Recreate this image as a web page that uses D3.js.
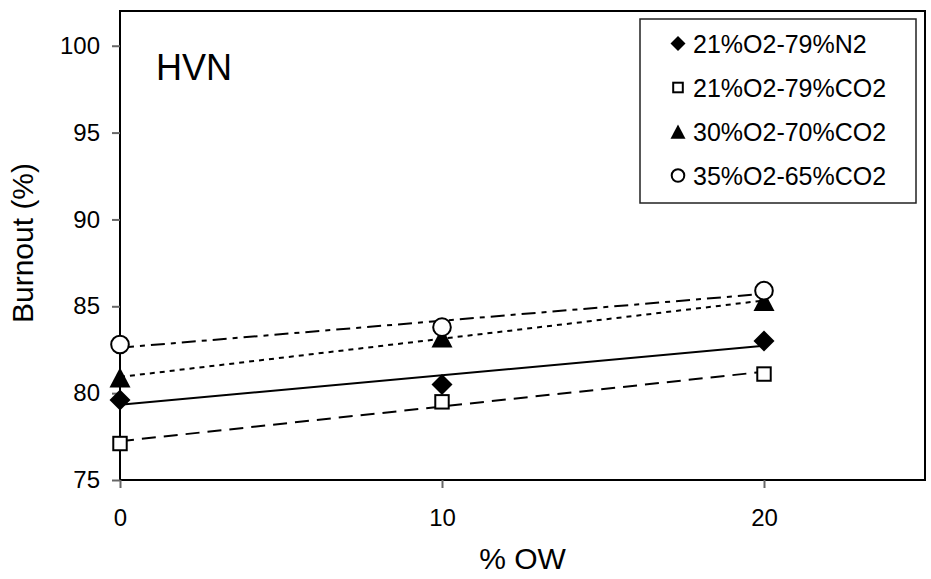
<!DOCTYPE html>
<html>
<head>
<meta charset="utf-8">
<script src="https://cdn.jsdelivr.net/npm/d3@7"></script>
<style>
  html, body { margin: 0; padding: 0; background: #fff; }
  svg { display: block; font-family: Arial, "Liberation Sans", sans-serif; }
</style>
</head>
<body>
<svg id="chart" width="931" height="579"></svg>
<script>
// ---- data ----
const xValues = [0, 10, 20];
const seriesNames = ["21%O2-79%N2", "21%O2-79%CO2", "30%O2-70%CO2", "35%O2-65%CO2"];
const n2_21 = [79.6, 80.5, 83.0];
const co2_21 = [77.1, 79.5, 81.1];
const co2_30 = [80.9, 83.2, 85.3];
const co2_35 = [82.8, 83.8, 85.9];
const xTicks = [0, 10, 20];
const yTicks = [75, 80, 85, 90, 95, 100];
const xTitle = "% OW";
const yTitle = "Burnout (%)";
const panelLabel = "HVN";

const series = [
  { name: seriesNames[0], values: n2_21, symbol: "diamond", dash: null },
  { name: seriesNames[1], values: co2_21, symbol: "square", dash: "14,8" },
  { name: seriesNames[2], values: co2_30, symbol: "triangle", dash: "5,5" },
  { name: seriesNames[3], values: co2_35, symbol: "circle", dash: "14,6,5,6" }
];

const svg = d3.select("#chart");
const pL = 120, pR = 925, pT = 11, pB = 480;

const x = d3.scaleLinear().domain([0, 25]).range([pL, pR]);
const y = d3.scaleLinear().domain([75, 102]).range([pB, pT]);

// frame
svg.append("rect").attr("x", pL).attr("y", pT)
  .attr("width", pR - pL).attr("height", pB - pT)
  .attr("fill", "none").attr("stroke", "#000").attr("stroke-width", 2);

// axes
const xAxis = svg.append("g").attr("transform", `translate(0,${pB})`)
  .call(d3.axisBottom(x).tickValues(xTicks).tickSize(8).tickPadding(21).tickFormat(d3.format("d")));
xAxis.select(".domain").remove();
xAxis.selectAll("line").attr("stroke", "#666").attr("stroke-width", 2);
xAxis.selectAll("text").attr("font-size", 24).attr("fill", "#000")
  .attr("font-family", "Arial, 'Liberation Sans', sans-serif");

const yAxis = svg.append("g").attr("transform", `translate(${pL},0)`)
  .call(d3.axisLeft(y).tickValues(yTicks).tickSize(8).tickPadding(12).tickFormat(d3.format("d")));
yAxis.select(".domain").remove();
yAxis.selectAll("line").attr("stroke", "#666").attr("stroke-width", 2);
yAxis.selectAll("text").attr("font-size", 24).attr("fill", "#000")
  .attr("font-family", "Arial, 'Liberation Sans', sans-serif");

// titles
svg.append("text").attr("x", (pL + pR) / 2).attr("y", 569)
  .attr("text-anchor", "middle").attr("font-size", 30).text(xTitle);
svg.append("text").attr("transform", `translate(33,243) rotate(-90)`)
  .attr("text-anchor", "middle").attr("font-size", 30).text(yTitle);
svg.append("text").attr("x", 156).attr("y", 80).attr("font-size", 36).text(panelLabel);

// linear trendlines (least squares)
function fit(xs, ys) {
  const mx = d3.mean(xs), my = d3.mean(ys);
  let sxy = 0, sxx = 0;
  xs.forEach((v, i) => { sxy += (v - mx) * (ys[i] - my); sxx += (v - mx) * (v - mx); });
  const b = sxy / sxx;
  return { a: my - b * mx, b };
}
const line = d3.line().x(d => x(d[0])).y(d => y(d[1]));
series.forEach(s => {
  const f = fit(xValues, s.values);
  const x0 = d3.min(xValues), x1 = d3.max(xValues);
  svg.append("path")
    .attr("d", line([[x0, f.a + f.b * x0], [x1, f.a + f.b * x1]]))
    .attr("fill", "none").attr("stroke", "#000").attr("stroke-width", 2)
    .attr("stroke-dasharray", s.dash);
});

// markers
function drawMarker(g, type, cx, cy, size) {
  if (type === "diamond") {
    const r = size / 2;
    g.append("path").attr("d", `M${cx},${cy - r}L${cx + r},${cy}L${cx},${cy + r}L${cx - r},${cy}Z`)
      .attr("fill", "#000");
  } else if (type === "square") {
    const s = size * 0.64;
    g.append("rect").attr("x", cx - s / 2).attr("y", cy - s / 2).attr("width", s).attr("height", s)
      .attr("fill", "#fff").attr("stroke", "#000").attr("stroke-width", 2);
  } else if (type === "triangle") {
    const w = size, h = size * 0.95;
    g.append("path").attr("d", `M${cx},${cy - h / 2}L${cx + w / 2},${cy + h / 2}L${cx - w / 2},${cy + h / 2}Z`)
      .attr("fill", "#000");
  } else if (type === "circle") {
    g.append("circle").attr("cx", cx).attr("cy", cy).attr("r", size * 0.42)
      .attr("fill", "#fff").attr("stroke", "#000").attr("stroke-width", 2);
  }
}
const markers = svg.append("g");
series.forEach(s => {
  s.values.forEach((v, i) => drawMarker(markers, s.symbol, x(xValues[i]), y(v), 21));
});

// legend
const lg = svg.append("g");
lg.append("rect").attr("x", 640).attr("y", 19).attr("width", 276).attr("height", 184)
  .attr("fill", "#fff").attr("stroke", "#222").attr("stroke-width", 1.5);
series.forEach((s, i) => {
  const cy = 43.5 + i * 44;
  drawMarker(lg, s.symbol, 678, cy, 15);
  lg.append("text").attr("x", 693).attr("y", cy + 9).attr("font-size", 25).text(s.name);
});
</script>
</body>
</html>
